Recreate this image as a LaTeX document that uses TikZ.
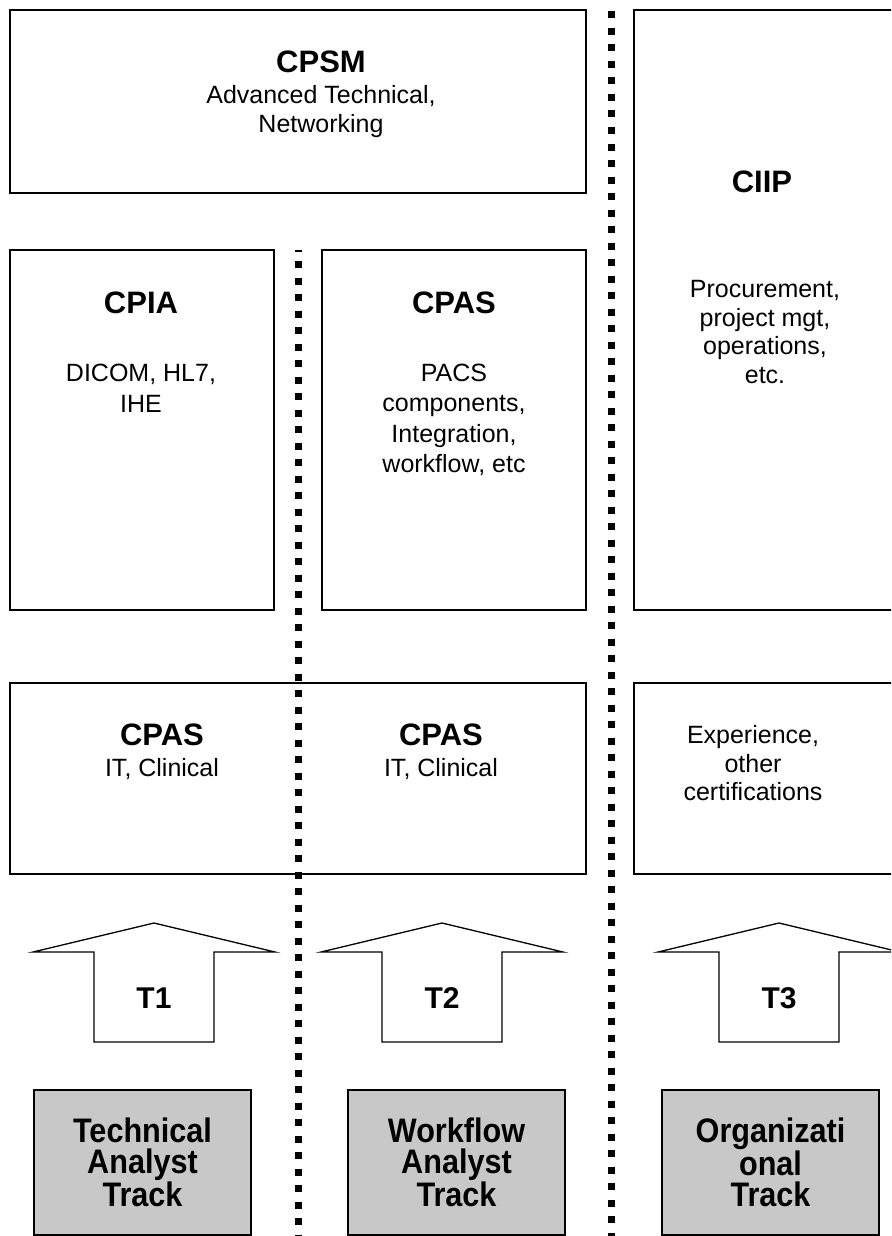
\documentclass[tikz,border=0pt]{standalone}
\usepackage{fontspec}
\setmainfont{Liberation Sans}
\newfontfamily\narrowsans[FakeStretch=0.9]{Liberation Sans}
\usetikzlibrary{positioning,calc}
\definecolor{trackGray}{HTML}{C8C8C8}

\begin{document}
\begin{tikzpicture}[
    x=1pt, y=-1pt,
    certbox/.style={
      rectangle, draw=black, line width=1.3pt, fill=white, inner sep=0pt
    },
    headtext/.style={font=\fontsize{31pt}{34pt}\selectfont\bfseries, inner sep=0pt},
    bodytext/.style={align=center, inner sep=0pt, anchor=north,
      font=\fontsize{25pt}{28.5pt}\selectfont},
    trackbox/.style={
      rectangle, draw=black, line width=1.3pt, fill=trackGray, align=center,
      minimum width=217pt, minimum height=145pt, inner sep=0pt,
      font=\narrowsans\bfseries\fontsize{34pt}{31pt}\selectfont
    },
    tracklabel/.style={font=\fontsize{30pt}{32pt}\selectfont\bfseries, inner sep=0pt},
    uparrow/.style={draw=black, line width=1.3pt, line join=miter},
    dotline/.style={draw=black, line width=7pt, dash pattern=on 7pt off 9.5pt}
  ]
  \useasboundingbox (0,0) rectangle (891,1236);
  \fill[white] (0,0) rectangle (891,1236);
  \clip (0,0) rectangle (891,1236);

  % certification boxes
  \node[certbox, minimum width=576pt, minimum height=183pt] (cpsm) at (298,101.5) {};
  \node[certbox, minimum width=276pt, minimum height=600pt] (ciip) at (772,310) {};
  \node[certbox, minimum width=264pt, minimum height=360pt] (cpia) at (142,430) {};
  \node[certbox, minimum width=264pt, minimum height=360pt] (cpasmid) at (454,430) {};
  \node[certbox, minimum width=576pt, minimum height=191pt] (cpaslow) at (298,778.5) {};
  \node[certbox, minimum width=276pt, minimum height=191pt] (exper) at (772,778.5) {};

  % track separators
  \coordinate (sepAtop) at (298,250);
  \coordinate (sepAbot) at (298,1236);
  \coordinate (sepBtop) at (611,11.5);
  \coordinate (sepBbot) at (611,1236);
  \draw[dotline, dash phase=5.5pt] (sepAtop) -- (sepAbot);
  \draw[dotline] (sepBtop) -- (sepBbot);

  \node[headtext] (cpsmhead) at (321,62) {CPSM};
  \node[bodytext] (cpsmbody) at (321,85.5) {Advanced Technical,\\Networking};

  \node[headtext] (ciiphead) at (762,182) {CIIP};
  \node[bodytext] (ciipbody) at (765,280.5) {Procurement,\\project mgt,\\operations,\\etc.};

  \node[headtext] (cpiahead) at (141,303) {CPIA};
  \node[bodytext, font=\fontsize{25pt}{31pt}\selectfont] (cpiabody) at (141,363.5) {DICOM, HL7,\\IHE};

  \node[headtext] (cpasmidhead) at (454,303) {CPAS};
  \node[bodytext, font=\fontsize{25pt}{30.5pt}\selectfont] (cpasmidbody) at (454,363.5)
    {PACS\\components,\\Integration,\\workflow, etc};

  \node[headtext] (cpasAhead) at (162,735) {CPAS};
  \node[bodytext] (cpasAbody) at (162,758.5) {IT, Clinical};
  \node[headtext] (cpasBhead) at (441,735) {CPAS};
  \node[bodytext] (cpasBbody) at (441,758.5) {IT, Clinical};

  \node[bodytext] (experbody) at (753,725.5) {Experience,\\other\\certifications};

  % track arrows
  \foreach \cx/\lbl in {154/T1, 442/T2, 779/T3}{
    \coordinate (\lbl tip) at (\cx,923);
    \draw[uparrow] (\lbl tip) -- ++(121,29) -- ++(-61,0) -- ++(0,90) -- ++(-120,0)
      -- ++(0,-90) -- ++(-61,0) -- cycle;
    \node[tracklabel] (\lbl) at (\cx,998) {\lbl};
  }

  % tracks
  \node[trackbox] (techtrack) at (142.5,1162.5) {Technical\\Analyst\\Track};
  \node[trackbox] (flowtrack) at (456.5,1162.5) {Workflow\\Analyst\\Track};
  \node[trackbox] (orgtrack) at (770.5,1162.5) {Organizati\\onal\\Track};
\end{tikzpicture}
\end{document}
